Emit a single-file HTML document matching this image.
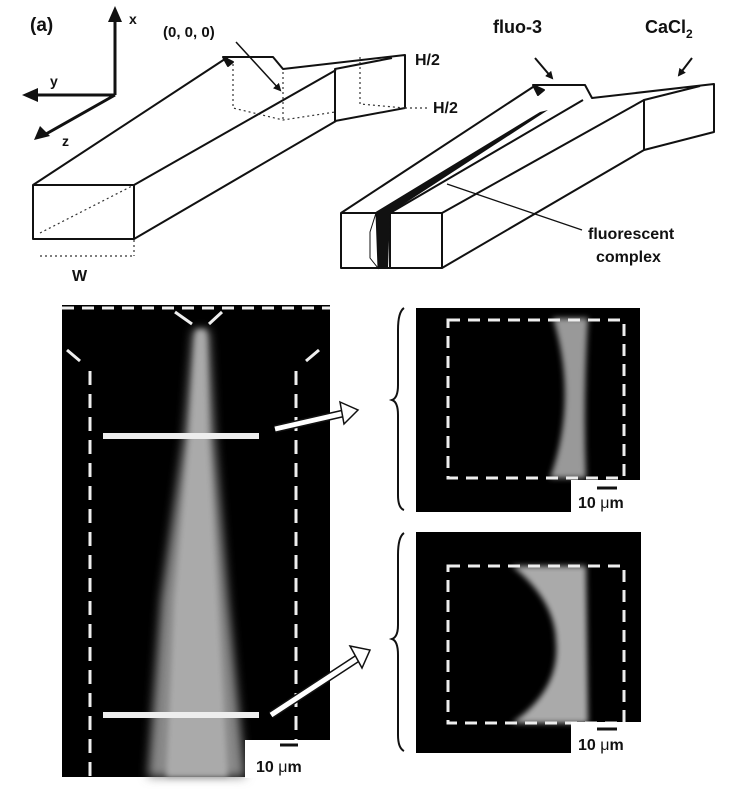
<!DOCTYPE html>
<html><head><meta charset="utf-8"><style>
html,body{margin:0;padding:0;background:#fff;width:734px;height:798px;overflow:hidden}
svg{display:block}
text{font-family:"Liberation Sans",Arial,sans-serif;font-weight:bold;fill:#111}
</style></head><body>
<svg width="734" height="798" viewBox="0 0 734 798" xmlns="http://www.w3.org/2000/svg">
<defs>
<filter id="b4" x="-50%" y="-10%" width="200%" height="120%"><feGaussianBlur stdDeviation="5"/></filter>
<filter id="b2" x="-50%" y="-10%" width="200%" height="120%"><feGaussianBlur stdDeviation="3"/></filter>
<marker id="ah" markerWidth="8" markerHeight="8" refX="6" refY="4" orient="auto" markerUnits="userSpaceOnUse"><path d="M0,0 L8,4 L0,8 Z" fill="#111"/></marker>
</defs>
<text x="30" y="31" font-size="19">(a)</text>
<g stroke="#111" stroke-width="3" fill="none">
<line x1="115" y1="95" x2="115" y2="20"/>
<line x1="115" y1="95" x2="34" y2="95"/>
<line x1="115" y1="95" x2="46" y2="134"/>
</g>
<path d="M108,22 L115,6 L122,22 Z" fill="#111"/>
<path d="M38,88 L22,95 L38,102 Z" fill="#111"/>
<path d="M40,126 L34,140 L50,136 Z" fill="#111"/>
<text x="129" y="24" font-size="14">x</text>
<text x="50" y="86" font-size="14">y</text>
<text x="62" y="146" font-size="14">z</text>
<text x="163" y="37" font-size="15" font-weight="normal">(0, 0, 0)</text>
<g stroke="#111" stroke-width="2" fill="none" stroke-linejoin="round">
<rect x="33" y="185" width="101" height="54" fill="#fff"/>
<line x1="33" y1="185" x2="228" y2="57"/>
<line x1="134" y1="185" x2="336" y2="70"/>
<line x1="134" y1="239" x2="336" y2="121"/>
<path d="M223,57 L273,57 L283,69 L405,55 L405,108 L335,121 L335,69 L392,58"/>
<path d="M223,57 L228,66 L233,62 Z" fill="#111"/>
</g>
<g stroke="#333" stroke-width="1.2" stroke-dasharray="2,3" fill="none">
<line x1="40" y1="233" x2="134" y2="185"/>
<path d="M233,64 L233,108 L283,120 L335,112"/>
<line x1="283" y1="72" x2="283" y2="120"/>
<path d="M360,57 L360,104 L405,108"/>
<line x1="405" y1="108" x2="430" y2="108"/>
<line x1="134" y1="240" x2="134" y2="256"/>
<line x1="40" y1="256" x2="134" y2="256"/>
</g>
<line x1="236" y1="42" x2="280" y2="90" stroke="#111" stroke-width="1.5" marker-end="url(#ah)"/>
<text x="415" y="65" font-size="16">H/2</text>
<text x="433" y="113" font-size="16">H/2</text>
<text x="72" y="281" font-size="16">W</text>
<g stroke="#111" stroke-width="2" fill="none" stroke-linejoin="round">
<rect x="341" y="213" width="101" height="55" fill="#fff"/>
<line x1="390" y1="213" x2="390" y2="268"/>
<line x1="341" y1="213" x2="536" y2="85"/>
<line x1="442" y1="213" x2="644" y2="100"/>
<line x1="442" y1="268" x2="644" y2="150"/>
<line x1="390" y1="213" x2="583" y2="100"/>
<path d="M533,85 L585,85 L592,98 L714,84 L714,132 L644,150 L644,100 L700,86"/>
<path d="M533,85 L538,95 L544,90 Z" fill="#111"/>
</g>
<path d="M374,213 L390,213 L548,110 L540,112 Z" fill="#111"/>
<path d="M376,213 L390,213 L388,268 L378,268 Z" fill="#111"/>
<path d="M370,232 L376,213 L378,268 L370,258 Z" fill="#fff" stroke="#111" stroke-width="1"/>
<text x="493" y="33" font-size="18">fluo-3</text>
<text x="645" y="33" font-size="18">CaCl<tspan font-size="12" dy="5">2</tspan></text>
<line x1="535" y1="58" x2="552" y2="78" stroke="#111" stroke-width="2" marker-end="url(#ah)"/>
<line x1="692" y1="58" x2="679" y2="75" stroke="#111" stroke-width="2" marker-end="url(#ah)"/>
<line x1="447" y1="184" x2="582" y2="230" stroke="#111" stroke-width="1.3"/>
<text x="588" y="239" font-size="16">fluorescent</text>
<text x="596" y="262" font-size="16">complex</text>
<!-- left image -->
<rect x="62" y="305" width="268" height="472" fill="#000"/>
<path d="M193,330 L209,330 L214,430 L228,600 L245,777 L148,777 L161,600 L185,430 Z" fill="#888" filter="url(#b4)"/>
<path d="M196,330 L206,330 L208,430 L218,600 L228,777 L166,777 L174,600 L190,430 Z" fill="#aaa" filter="url(#b2)"/>
<rect x="245" y="740" width="85" height="38" fill="#fff"/>
<line x1="280" y1="745" x2="298" y2="745" stroke="#111" stroke-width="3"/>
<text x="256" y="772" font-size="16">10 <tspan font-weight="normal">μ</tspan>m</text>
<g stroke="#eee" stroke-width="3" fill="none">
<line x1="62" y1="308" x2="330" y2="308" stroke-dasharray="12,8"/>
<line x1="90" y1="371" x2="90" y2="778" stroke-dasharray="14,9"/>
<line x1="296" y1="371" x2="296" y2="740" stroke-dasharray="14,9"/>
<line x1="67" y1="350" x2="80" y2="361"/>
<line x1="319" y1="350" x2="306" y2="361"/>
<line x1="175" y1="312" x2="192" y2="324"/>
<line x1="222" y1="312" x2="209" y2="324"/>
</g>
<rect x="103" y="433" width="156" height="6" fill="#eee"/>
<rect x="103" y="712" width="156" height="6" fill="#eee"/>
<g>
<line x1="275" y1="429" x2="345" y2="413" stroke="#111" stroke-width="8"/>
<line x1="275" y1="429" x2="345" y2="413" stroke="#fff" stroke-width="5"/>
<path d="M340,402 L358,410 L344,424 Z" fill="#fff" stroke="#111" stroke-width="1.5"/>
<line x1="271" y1="715" x2="358" y2="658" stroke="#111" stroke-width="8"/>
<line x1="271" y1="715" x2="358" y2="658" stroke="#fff" stroke-width="5"/>
<path d="M350,646 L370,650 L362,668 Z" fill="#fff" stroke="#111" stroke-width="1.5"/>
</g>
<path d="M404,308 Q398,312 398,330 L398,385 Q398,398 392,400 Q398,402 398,415 L398,495 Q398,508 404,510" stroke="#111" stroke-width="2" fill="none"/>
<path d="M404,533 Q398,537 398,555 L398,625 Q398,637 392,639 Q398,641 398,655 L398,735 Q398,748 404,751" stroke="#111" stroke-width="2" fill="none"/>
<!-- right top image -->
<rect x="416" y="308" width="224" height="204" fill="#000"/>
<path d="M553,318 L588,318 Q583,400 586,478 L550,478 Q578,400 553,318 Z" fill="#999" filter="url(#b2)"/>
<rect x="448" y="320" width="176" height="158" fill="none" stroke="#eee" stroke-width="3" stroke-dasharray="12,8"/>
<rect x="571" y="480" width="69" height="33" fill="#fff"/>
<line x1="597" y1="488" x2="617" y2="488" stroke="#111" stroke-width="3"/>
<text x="578" y="508" font-size="16">10 <tspan font-weight="normal">μ</tspan>m</text>
<!-- right bottom image -->
<rect x="416" y="532" width="225" height="221" fill="#000"/>
<path d="M512,566 L586,566 L588,723 L512,723 Q560,690 556,642 Q555,600 512,566 Z" fill="#aaa" filter="url(#b2)"/>
<rect x="448" y="566" width="176" height="157" fill="none" stroke="#eee" stroke-width="3" stroke-dasharray="12,8"/>
<rect x="571" y="722" width="70" height="31" fill="#fff"/>
<line x1="597" y1="729" x2="617" y2="729" stroke="#111" stroke-width="3"/>
<text x="578" y="750" font-size="16">10 <tspan font-weight="normal">μ</tspan>m</text>
</svg>
</body></html>
